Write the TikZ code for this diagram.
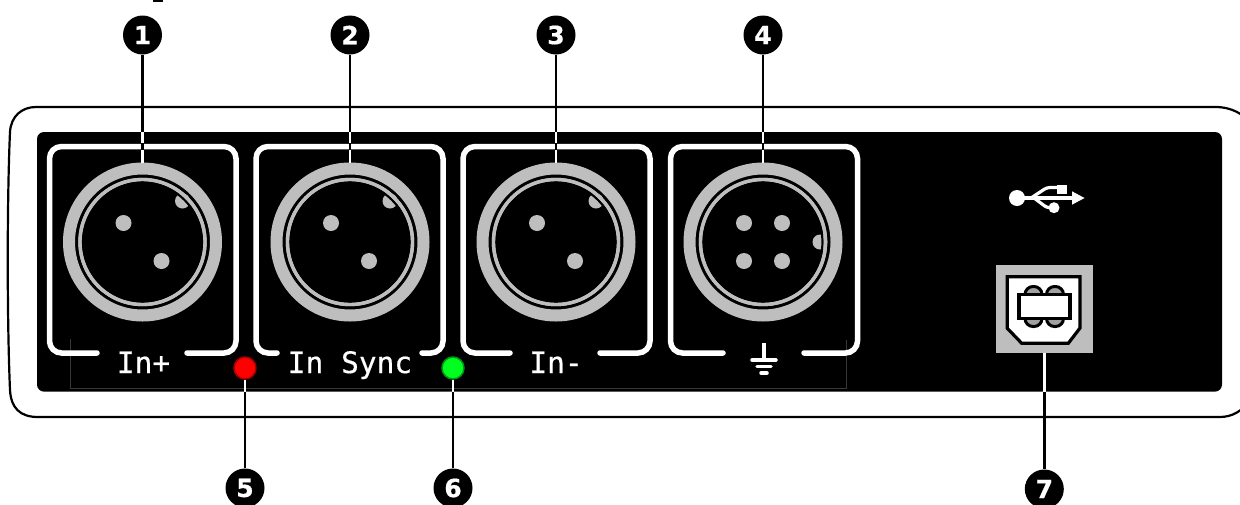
\documentclass[tikz,border=0pt]{standalone}
\usepackage{fontspec}
\newfontfamily\labelfont[FakeBold=0.5]{DejaVu Sans Mono}
\newfontfamily\badgefont[FakeBold=0.6]{DejaVu Sans Bold}
\definecolor{metal}{HTML}{BEBEBE}
\definecolor{ledred}{HTML}{FF0000}
\definecolor{ledgreen}{HTML}{00FF1E}
\tikzset{
  badge/.style={circle,fill=black,inner sep=0pt,minimum size=39pt,text=white,font=\badgefont\fontsize{25}{25}\selectfont},
  xlrring/.style={circle,draw=metal,line width=12pt,inner sep=0pt,minimum size=147pt},
  pin/.style={circle,fill=metal,inner sep=0pt,minimum size=16pt},
  keypin/.style={circle,fill=metal,inner sep=0pt,minimum size=15pt},
  led/.style={circle,inner sep=0pt,minimum size=22pt,line width=1.5pt},
  portlabel/.style={anchor=base,text=white,inner sep=0pt,font=\labelfont\fontsize{29.5}{30}\selectfont},
  framepath/.style={draw=white,line width=5.5pt,line cap=round,rounded corners=12pt},
  leaderb/.style={draw=black,line width=2.6pt},
  leaderw/.style={draw=white,line width=2.6pt},
  seam/.style={draw=black!78,line width=0.8pt},
  gndbar/.style={draw=white,line width=3.5pt,line cap=round},
  usbline/.style={draw=white,line width=3.2pt},
}
\newcommand{\xlrbase}[2]{%
  \node[xlrring] (#1) at (#2,242) {};
  \draw[metal,line width=3.4pt] (#2,242) circle[radius=62.5pt];
}
\newcommand{\threepins}[1]{%
  \node[pin] at (#1-19,223) {};
  \node[pin] at (#1+19,261) {};
  \node[keypin] at (#1+40,201) {};
  \draw[black,line width=2.2pt] (#1,242) circle[radius=59.5pt];
  \draw[metal,line width=3.4pt] (#1,242) circle[radius=62.5pt];
}
\newcommand{\frameat}[4]{% left right gapL gapR
  \draw[framepath] (#3,353) -- (#1,353) -- (#1,146.5) -- (#2,146.5) -- (#2,353) -- (#4,353);
}
\begin{document}
\begin{tikzpicture}[x=1pt,y=-1pt]
\useasboundingbox (0,0) rectangle (1240,504);
\fill[white] (0,0) rectangle (1240,504);
\fill[black] (153,0) rectangle (163,1.6);
% housing
\draw[black,line width=2.2pt] (36,107) -- (1215,107) .. controls (1232,107) and (1243,114) .. (1252,124)
   (1252,398) .. controls (1243,411) and (1232,417) .. (1220,417) -- (38,417)
   .. controls (20,417) and (11,408) .. (10,390) .. controls (7,320) and (7,200) .. (10,132) .. controls (11,116) and (22,107) .. (36,107);
% panel
\fill[black,rounded corners=7pt] (37,132) rectangle (1222,391.6);
\draw[seam] (70,339) -- (70,388) -- (846,388) -- (846,340);
% frames
\frameat{49.5}{236}{97}{187}
\frameat{256}{443}{277}{422}
\frameat{463}{650}{510}{600}
\frameat{670.5}{857.5}{723}{804}
% badges
\node[badge] (b1) at (142.5,35) {1};
\node[badge] (b2) at (350,35) {2};
\node[badge] (b3) at (556,35) {3};
\node[badge] (b4) at (763,35) {4};
\node[badge] (b5) at (245,488) {5};
\node[badge] (b6) at (453,488) {6};
\node[badge] (b7) at (1044.3,489) {7};
% connectors
\xlrbase{c1}{142.5}\threepins{142.5}
\xlrbase{c2}{350}\threepins{350}
\xlrbase{c3}{556}\threepins{556}
\xlrbase{c4}{763}
\foreach \dx in {-19,19} \foreach \yy in {223,261} \node[pin] at (763+\dx,\yy) {};
\node[keypin] at (820,242) {};
\draw[black,line width=2.2pt] (763,242) circle[radius=59.5pt];
\draw[metal,line width=3.4pt] (763,242) circle[radius=62.5pt];
% labels
\node[portlabel] at (143.5,373) {In+};
\node[portlabel] at (350,373) {In Sync};
\node[portlabel] at (556,373) {In-};
% earth symbol
\draw[gndbar,line cap=butt] (764,343) -- (764,360);
\draw[gndbar] (752,360) -- (776,360);
\draw[gndbar] (757,366.5) -- (771,366.5);
\draw[gndbar] (761,373) -- (767,373);
% LEDs
\node[led,fill=ledred,draw=ledred!65!black] (l1) at (245,368) {};
\node[led,fill=ledgreen,draw=ledgreen!60!black] (l2) at (453,368) {};
% USB symbol
\fill[white] (1017,198) circle[radius=8pt];
\draw[usbline] (1020,198) -- (1074,198);
\draw[usbline,rounded corners=3pt] (1031,198) -- (1047,187.5) -- (1058,187.5);
\draw[usbline,rounded corners=3pt] (1034,198) -- (1047,207.7) -- (1052,207.7);
\fill[white] (1056.5,184.5) rectangle (1066.5,193.5);
\fill[white] (1054,207.7) circle[radius=5.5pt];
\fill[white] (1072,191.3) -- (1084.5,198) -- (1072,204.7) -- cycle;
% USB-B socket
\node[rectangle,fill=metal,inner sep=0pt,minimum width=96.7pt,minimum height=87.7pt] (u1) at (1044.3,308.85) {};
\draw[black,fill=white,line width=3.2pt,line join=miter] (1007.3,276.7) -- (1080,276.7) -- (1080,328) -- (1068.3,343.3) -- (1021.7,343.3) -- (1007.3,328.3) -- cycle;
\draw[black,fill=metal!85!black,line width=3pt,rounded corners=8pt] (1025,286.5) rectangle (1042,326.5);
\draw[black,fill=metal!85!black,line width=3pt,rounded corners=8pt] (1046.5,286.5) rectangle (1063.5,326.5);
\draw[black,fill=white,line width=3.4pt] (1019,294.3) rectangle (1070,318.3);
% leaders
\foreach \i/\x in {1/142.5,2/350,3/556,4/763}{
  \coordinate (p\i) at (\x,132);
  \coordinate (q\i) at (\x,143);
  \coordinate (r\i) at (\x,150);
  \draw[leaderb] (b\i) -- (p\i);
  \draw[leaderb] (q\i) -- (r\i);
  \draw[leaderw] (p\i) -- (q\i);
  \draw[leaderw] (r\i) -- (c\i.north);
}
\foreach \i/\led/\x in {5/l1/245,6/l2/453,7/u1/1044.3}{
  \coordinate (s\i) at (\x,391.6);
  \draw[leaderw] (\led) -- (s\i);
  \draw[leaderb] (s\i) -- (b\i);
}
\end{tikzpicture}
\end{document}
